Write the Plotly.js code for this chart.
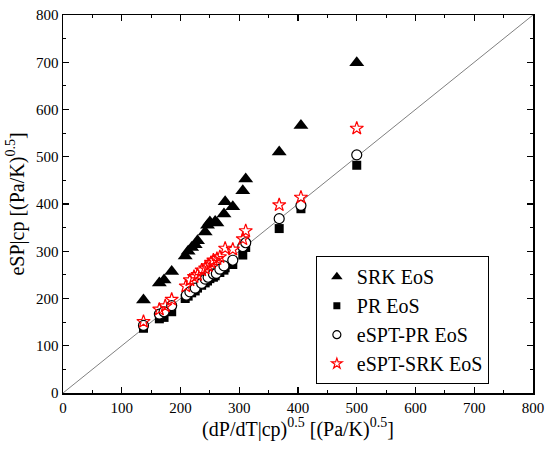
<!DOCTYPE html>
<html><head><meta charset="utf-8">
<script src="https://cdn.plot.ly/plotly-3.0.1.min.js"></script>
<style>html,body{margin:0;padding:0;background:#fff}#plot{width:550px;height:464px}</style>
</head><body><div id="plot"></div>
<script>
// SRK EoS (triangles)
const srkX = [137,164,172,185,208,213,219,225,229,242,246,250,259,262,274,276,289,306,311,368,405,500];
const srkY = [197,233,239,257,290,300,308,314,322,341,355,362,363,360,379,405,394,428,453,510,566,699];
// PR EoS (squares)
const prX = [137,164,172,185,208,213,219,225,229,236,242,246,250,256,259,267,274,276,289,306,311,368,405,500];
const prY = [137,157,160,172,200,205,212,216,222,228,233,237,242,245,248,255,260,265,272,292,308,348,390,482];
// eSPT-PR EoS (open circles)
const ptprX = [137,164,172,185,210,216,225,236,242,247,256,261,267,274,289,306,311,368,405,500];
const ptprY = [143,167,172,185,207,214,222,232,241,245,252,253,262,269,281,310,318,369,397,504];
// eSPT-SRK EoS (open stars)
const ptsrkX = [137,164,174,185,209,216,223,229,236,242,247,252,256,262,267,276,289,306,311,368,405,500];
const ptsrkY = [151,177,184,198,226,239,246,250,260,264,269,276,281,284,288,306,304,326,343,398,414,560];
// diagonal reference
const diagX = [0,800];
const diagY = [0,800];
const seriesNames = ['SRK EoS','PR EoS','eSPT-PR EoS','eSPT-SRK EoS'];

const FONT = '"Liberation Serif", "Times New Roman", serif';

const mk = {
  srk: {symbol:'triangle-up', color:'#000'},
  pr: {symbol:'square', color:'#000'},
  ptpr: {symbol:'circle', color:'#fff', line:{color:'#000', width:1.2}},
  ptsrk: {symbol:'star-open', color:'#ff0000', line:{color:'#ff0000', width:1.2}}
};
function m(base, size){ return Object.assign({}, base, {size:size}); }

const traces = [
  {x: diagX, y: diagY, mode:'lines', line:{color:'#808080', width:1}, showlegend:false, hoverinfo:'skip'},
  {x: srkX, y: srkY, mode:'markers', showlegend:false, marker:m(mk.srk,13)},
  {x: prX, y: prY, mode:'markers', showlegend:false, marker:m(mk.pr,9)},
  {x: ptprX, y: ptprY, mode:'markers', showlegend:false, marker:m(mk.ptpr,10)},
  {x: ptsrkX, y: ptsrkY, mode:'markers', showlegend:false, marker:m(mk.ptsrk,10)},
  // legend entries (smaller symbols, as in the reference)
  {x:[null], y:[null], mode:'markers', name:seriesNames[0], marker:m(mk.srk,10)},
  {x:[null], y:[null], mode:'markers', name:seriesNames[1], marker:m(mk.pr,7)},
  {x:[null], y:[null], mode:'markers', name:seriesNames[2], marker:m(mk.ptpr,8)},
  {x:[null], y:[null], mode:'markers', name:seriesNames[3], marker:m(mk.ptsrk,8)}
];

function axis(titleText){
  return {
    range:[0,800], dtick:100, ticks:'inside', ticklen:6, tickwidth:1.3, tickcolor:'#000',
    showline:true, linecolor:'#000', linewidth:1.5, mirror:'allticks',
    showgrid:false, zeroline:false,
    minor:{dtick:50, ticks:'inside', ticklen:3, tickwidth:1.2, tickcolor:'#000', showgrid:false},
    tickfont:{family:FONT, size:15, color:'#000'},
    title:{text:titleText, font:{size:20, family:FONT, color:'#000'}, standoff:6}
  };
}

const layout = {
  width:550, height:464,
  margin:{l:63, r:17, t:15, b:71},
  paper_bgcolor:'#fff', plot_bgcolor:'#fff',
  font:{family:FONT, color:'#000', size:15},
  xaxis: axis('(dP/dT|cp)<sup>0.5</sup> [(Pa/K)<sup>0.5</sup>]'),
  yaxis: axis('eSP|cp [(Pa/K)<sup>0.5</sup>]'),
  legend:{x:0.538, y:0.362, xanchor:'left', yanchor:'top',
    bordercolor:'#000', borderwidth:1, bgcolor:'#fff',
    font:{size:20, family:FONT, color:'#000'}, itemwidth:30, tracegroupgap:0},
  showlegend:true
};

Plotly.newPlot('plot', traces, layout, {staticPlot:true, displayModeBar:false});
</script></body></html>
